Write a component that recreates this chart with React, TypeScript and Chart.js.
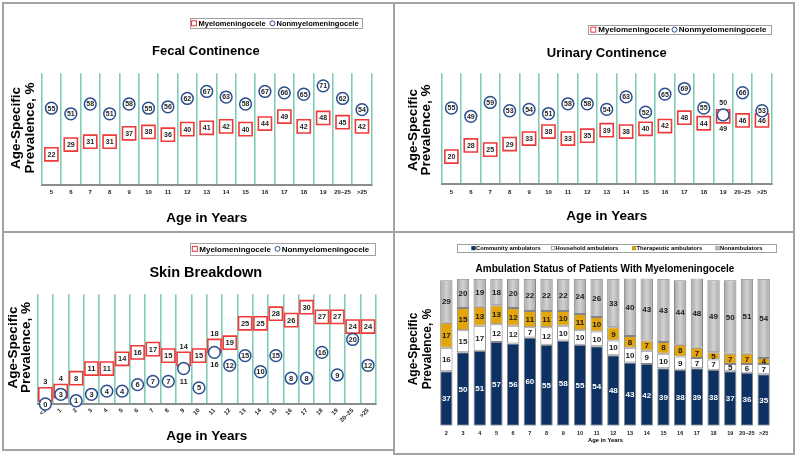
import React, { useEffect, useRef } from 'react';
import { Chart, registerables } from 'chart.js';

Chart.register(...registerables);

const FONT = '"Liberation Sans", Arial, Helvetica, sans-serif';
Chart.defaults.font.family = FONT;

// ---------------- Data ----------------
const seriesNames = ['Myelomeningocele', 'Nonmyelomeningocele'];

const continenceAges = ['5', '6', '7', '8', '9', '10', '11', '12', '13', '14', '15', '16', '17', '18', '19', '20–25', '>25'];
const fecalMyelo = [22, 29, 31, 31, 37, 38, 36, 40, 41, 42, 40, 44, 49, 42, 48, 45, 42];
const fecalNonMyelo = [55, 51, 58, 51, 58, 55, 56, 62, 67, 63, 58, 67, 66, 65, 71, 62, 54];

const urinaryMyelo = [20, 28, 25, 29, 33, 38, 33, 35, 39, 38, 40, 42, 48, 44, 49, 46, 46];
const urinaryNonMyelo = [55, 49, 59, 53, 54, 51, 58, 58, 54, 63, 52, 65, 69, 55, 50, 66, 53];

const skinAges = ['<1', '1', '2', '3', '4', '5', '6', '7', '8', '9', '10', '11', '12', '13', '14', '15', '16', '17', '18', '19', '20–25', '>25'];
const skinMyelo = [3, 4, 8, 11, 11, 14, 16, 17, 15, 14, 15, 18, 19, 25, 25, 28, 26, 30, 27, 27, 24, 24];
const skinNonMyelo = [0, 3, 1, 3, 4, 4, 6, 7, 7, 11, 5, 16, 12, 15, 10, 15, 8, 8, 16, 9, 20, 12];

const ambSeriesNames = ['Community ambulators', 'Household ambulators', 'Therapeutic ambulators', 'Nonambulators'];
const ambAges = ['2', '3', '4', '5', '6', '7', '8', '9', '10', '11', '12', '13', '14', '15', '16', '17', '18', '19', '20–25', '>25'];
const ambCommunity = [37, 50, 51, 57, 56, 60, 55, 58, 55, 54, 48, 43, 42, 39, 38, 39, 38, 37, 36, 35];
const ambHousehold = [16, 15, 17, 12, 12, 7, 12, 10, 10, 10, 10, 10, 9, 10, 9, 7, 7, 5, 6, 7];
const ambTherapeutic = [17, 15, 13, 13, 12, 11, 11, 10, 11, 10, 9, 8, 7, 8, 8, 7, 5, 7, 7, 4];
const ambNon = [29, 20, 19, 18, 20, 22, 22, 22, 24, 26, 33, 40, 43, 43, 44, 48, 49, 50, 51, 54];

const continenceMax = 80;
const skinMax = 34;
const ambMax = 100;

// Categories whose value labels sit outside their marker (where markers overlap)
type LabelMoves = { myeloAbove?: string[]; myeloBelow?: string[]; nonAbove?: string[]; nonBelow?: string[] };
const fecalLabelMoves: LabelMoves = {};
const urinaryLabelMoves: LabelMoves = { myeloBelow: ['19'], nonAbove: ['19'] };
const skinLabelMoves: LabelMoves = { myeloAbove: ['<1', '1', '9', '11'], nonBelow: ['9', '11'] };

// ---------------- Styles ----------------
const RED = '#ee3a3a';
const BLUE = '#2d4f8f';
const TEAL = '#80cdb6';
const NAVY = '#0d3163';
const GOLD = '#e2a50b';
const GRAY = '#bdbdbd';

type TextItem = { text: string; x: number; y: number; size: number; rotate?: boolean };
type LegendItem = { shape: string; color: string; fill?: string; mx: number; tx: number; label: string };
type Decor = {
  texts: TextItem[];
  legend: { box: number[]; size: number; marker: number; items: LegendItem[] };
};

function makeDecor(id: string, d: Decor) {
  return {
    id,
    afterDraw(chart: any) {
      const ctx = chart.ctx as CanvasRenderingContext2D;
      ctx.save();
      ctx.textAlign = 'center';
      ctx.textBaseline = 'middle';
      ctx.fillStyle = '#000';
      for (const t of d.texts) {
        ctx.font = `bold ${t.size}px ${FONT}`;
        if (t.rotate) {
          ctx.save();
          ctx.translate(t.x, t.y);
          ctx.rotate(-Math.PI / 2);
          ctx.fillText(t.text, 0, 0);
          ctx.restore();
        } else {
          ctx.fillText(t.text, t.x, t.y);
        }
      }
      const lg = d.legend;
      const [bx, by, bw, bh] = lg.box;
      ctx.fillStyle = '#fff';
      ctx.fillRect(bx, by, bw, bh);
      ctx.strokeStyle = '#a0a0a0';
      ctx.lineWidth = 1;
      ctx.strokeRect(Math.round(bx) + 0.5, Math.round(by) + 0.5, Math.round(bw), Math.round(bh));
      const cy = by + bh / 2;
      ctx.font = `bold ${lg.size}px ${FONT}`;
      ctx.textAlign = 'left';
      const m = lg.marker;
      for (const it of lg.items) {
        if (it.shape === 'circle') {
          ctx.beginPath();
          ctx.arc(it.mx, cy, m / 2, 0, Math.PI * 2);
          ctx.fillStyle = '#fff';
          ctx.fill();
          ctx.strokeStyle = it.color;
          ctx.lineWidth = 1;
          ctx.stroke();
        } else if (it.shape === 'rect') {
          ctx.fillStyle = '#fff';
          ctx.fillRect(it.mx - m / 2, cy - m / 2, m, m);
          ctx.strokeStyle = it.color;
          ctx.lineWidth = 1;
          ctx.strokeRect(it.mx - m / 2, cy - m / 2, m, m);
        } else {
          ctx.fillStyle = it.fill || it.color;
          ctx.fillRect(it.mx - m / 2, cy - m / 2, m, m);
          ctx.strokeStyle = it.color;
          ctx.lineWidth = 0.6;
          ctx.strokeRect(it.mx - m / 2, cy - m / 2, m, m);
        }
        ctx.fillStyle = '#000';
        ctx.fillText(it.label, it.tx, cy + 0.5);
      }
      ctx.restore();
    },
  };
}

function makePairLabels(id: string, size: number, shift: number, moves: LabelMoves) {
  const has = (list: string[] | undefined, c: string) => !!list && list.indexOf(c) >= 0;
  return {
    id,
    afterDatasetsDraw(chart: any) {
      const ctx = chart.ctx as CanvasRenderingContext2D;
      const labels = chart.data.labels as string[];
      const a = chart.data.datasets[0].data as number[];
      const b = chart.data.datasets[1].data as number[];
      const ma = chart.getDatasetMeta(0).data;
      const mb = chart.getDatasetMeta(1).data;
      ctx.save();
      ctx.font = `bold ${size}px ${FONT}`;
      ctx.fillStyle = '#1e1e1e';
      ctx.textAlign = 'center';
      ctx.textBaseline = 'middle';
      for (let i = 0; i < a.length; i++) {
        const c = labels[i];
        const pa = ma[i];
        const pb = mb[i];
        let ya = pa.y;
        let yb = pb.y;
        if (has(moves.myeloAbove, c)) ya -= shift;
        if (has(moves.myeloBelow, c)) ya += shift;
        if (has(moves.nonAbove, c)) yb -= shift;
        if (has(moves.nonBelow, c)) yb += shift;
        ctx.fillText(String(a[i]), pa.x, ya + 0.5);
        ctx.fillText(String(b[i]), pb.x, yb + 0.5);
      }
      ctx.restore();
    },
  };
}

function makeBarLabels(id: string, size: number) {
  return {
    id,
    afterDatasetsDraw(chart: any) {
      const ctx = chart.ctx as CanvasRenderingContext2D;
      const area = chart.chartArea;
      ctx.save();
      ctx.font = `bold ${size}px ${FONT}`;
      ctx.textAlign = 'center';
      ctx.textBaseline = 'middle';
      chart.data.datasets.forEach((ds: any, k: number) => {
        const meta = chart.getDatasetMeta(k);
        ctx.fillStyle = k === 0 ? '#ffffff' : '#1a1a1a';
        meta.data.forEach((el: any, i: number) => {
          const top = Math.max(Math.min(el.y, el.base), area.top);
          const bot = Math.max(el.y, el.base);
          ctx.fillText(String(ds.data[i]), el.x, (top + bot) / 2 + 0.5);
        });
      });
      ctx.restore();
    },
  };
}

type ScatterPanel = {
  key: string;
  labels: string[];
  myelo: number[];
  non: number[];
  max: number;
  moves: LabelMoves;
  padding: { left: number; right: number; top: number; bottom: number };
  axisH: number;
  rot: number;
  tickPad: number;
  tickSize: number;
  labelSize: number;
  decor: Decor;
};

function scatterConfig(p: ScatterPanel): any {
  return {
    type: 'line',
    data: {
      labels: p.labels,
      datasets: [
        {
          label: seriesNames[0],
          data: p.myelo,
          showLine: false,
          pointStyle: 'rect',
          pointRadius: 9.3,
          pointHoverRadius: 9.3,
          pointBorderWidth: 1.6,
          pointBorderColor: RED,
          pointBackgroundColor: '#ffffff',
          borderColor: RED,
          backgroundColor: '#ffffff',
          order: 2,
          clip: false,
        },
        {
          label: seriesNames[1],
          data: p.non,
          showLine: false,
          pointStyle: 'circle',
          pointRadius: 5.9,
          pointHoverRadius: 5.9,
          pointBorderWidth: 1.5,
          pointBorderColor: BLUE,
          pointBackgroundColor: '#ffffff',
          borderColor: BLUE,
          backgroundColor: '#ffffff',
          order: 1,
          clip: false,
        },
      ],
    },
    options: {
      responsive: false,
      animation: false,
      devicePixelRatio: 1,
      events: [],
      layout: { padding: p.padding },
      plugins: { legend: { display: false }, tooltip: { enabled: false }, title: { display: false } },
      scales: {
        x: {
          type: 'category',
          offset: true,
          grid: { offset: true, color: TEAL, lineWidth: 1.6, drawTicks: false },
          border: { display: true, color: '#8c8c8c', width: 2 },
          ticks: {
            autoSkip: false,
            maxRotation: p.rot,
            minRotation: p.rot,
            padding: p.tickPad,
            color: '#222',
            font: { size: p.tickSize, weight: 'bold', family: FONT },
          },
          afterFit: (s: any) => {
            s.height = p.axisH;
            s.paddingLeft = 0;
            s.paddingRight = 0;
          },
        },
        y: { display: false, min: 0, max: p.max },
      },
    },
    plugins: [makePairLabels('pair-' + p.key, p.labelSize, 12.5, p.moves), makeDecor('decor-' + p.key, p.decor)],
  };
}

function markerLegend(box: number[], size: number, rx: number, rtx: number, cx: number, ctx2: number): Decor['legend'] {
  return {
    box,
    size,
    marker: 5,
    items: [
      { shape: 'rect', color: RED, mx: rx, tx: rtx, label: seriesNames[0] },
      { shape: 'circle', color: BLUE, mx: cx, tx: ctx2, label: seriesNames[1] },
    ],
  };
}

const fecalPanel: ScatterPanel = {
  key: 'fecal',
  labels: continenceAges,
  myelo: fecalMyelo,
  non: fecalNonMyelo,
  max: continenceMax,
  moves: fecalLabelMoves,
  padding: { left: 37.7, right: 21.3, top: 69.3, bottom: 0 },
  axisH: 46,
  rot: 0,
  tickPad: 4,
  tickSize: 6,
  labelSize: 7,
  decor: {
    texts: [
      { text: 'Fecal Continence', x: 201.8, y: 47, size: 13 },
      { text: 'Age in Years', x: 202.7, y: 214, size: 13.5 },
      { text: 'Age-Specific', x: 12.7, y: 124, size: 13.5, rotate: true },
      { text: 'Prevalence, %', x: 26, y: 124, size: 13.5, rotate: true },
    ],
    legend: markerLegend([186, 14.3, 171.7, 10], 7.5, 190, 194.5, 268.5, 272.5),
  },
};

const urinaryPanel: ScatterPanel = {
  key: 'urinary',
  labels: continenceAges,
  myelo: urinaryMyelo,
  non: urinaryNonMyelo,
  max: continenceMax,
  moves: urinaryLabelMoves,
  padding: { left: 46.7, right: 21.3, top: 69.3, bottom: 0 },
  axisH: 46.7,
  rot: 0,
  tickPad: 4,
  tickSize: 6,
  labelSize: 7,
  decor: {
    texts: [
      { text: 'Urinary Continence', x: 211.7, y: 49, size: 13 },
      { text: 'Age in Years', x: 211.7, y: 212.7, size: 13.5 },
      { text: 'Age-Specific', x: 18.3, y: 126, size: 13.5, rotate: true },
      { text: 'Prevalence, %', x: 31.7, y: 126, size: 13.5, rotate: true },
    ],
    legend: markerLegend([193, 21, 182.7, 9.3], 8, 198.3, 203.3, 279.5, 283.8),
  },
};

const skinPanel: ScatterPanel = {
  key: 'skin',
  labels: skinAges,
  myelo: skinMyelo,
  non: skinNonMyelo,
  max: skinMax,
  moves: skinLabelMoves,
  padding: { left: 33.7, right: 17.3, top: 61.3, bottom: 0 },
  axisH: 45,
  rot: 45,
  tickPad: 3,
  tickSize: 6,
  labelSize: 7.5,
  decor: {
    texts: [
      { text: 'Skin Breakdown', x: 201.8, y: 40.3, size: 14.5 },
      { text: 'Age in Years', x: 202.7, y: 203.7, size: 13.5 },
      { text: 'Age-Specific', x: 9.3, y: 114.5, size: 13.5, rotate: true },
      { text: 'Prevalence, %', x: 22.7, y: 114.5, size: 13.5, rotate: true },
    ],
    legend: markerLegend([186, 9.7, 185, 12.3], 8, 190.8, 195.3, 273.5, 277.7),
  },
};

function ambConfig(): any {
  const grayGrad = (c: any) => {
    try {
      const chart = c.chart;
      const x = chart.scales && chart.scales.x;
      const area = chart.chartArea;
      if (!x || !area || c.dataIndex === undefined) return GRAY;
      const cx = x.getPixelForValue(c.dataIndex);
      const half = ((area.right - area.left) / ambAges.length) * 0.74 / 2;
      const g = chart.ctx.createLinearGradient(cx - half, 0, cx + half, 0);
      g.addColorStop(0, '#a6a6a6');
      g.addColorStop(0.5, '#d2d2d2');
      g.addColorStop(1, '#a6a6a6');
      return g;
    } catch (e) {
      return GRAY;
    }
  };
  const common = { borderColor: '#858585', borderWidth: 1, borderSkipped: false };
  return {
    type: 'bar',
    data: {
      labels: ambAges,
      datasets: [
        { label: ambSeriesNames[0], data: ambCommunity, backgroundColor: NAVY, ...common },
        { label: ambSeriesNames[1], data: ambHousehold, backgroundColor: '#ffffff', ...common },
        { label: ambSeriesNames[2], data: ambTherapeutic, backgroundColor: GOLD, ...common },
        { label: ambSeriesNames[3], data: ambNon, backgroundColor: grayGrad, ...common },
      ],
    },
    options: {
      responsive: false,
      animation: false,
      devicePixelRatio: 1,
      events: [],
      layout: { padding: { left: 43, right: 21, top: 45.7, bottom: 0 } },
      datasets: { bar: { barPercentage: 0.74, categoryPercentage: 1 } },
      plugins: { legend: { display: false }, tooltip: { enabled: false }, title: { display: false } },
      scales: {
        x: {
          stacked: true,
          grid: { display: false, drawTicks: false },
          border: { display: false },
          ticks: {
            autoSkip: false,
            maxRotation: 0,
            minRotation: 0,
            padding: 4,
            color: '#222',
            font: { size: 5.5, weight: 'bold', family: FONT },
          },
          afterFit: (s: any) => {
            s.height = 27.3;
            s.paddingLeft = 0;
            s.paddingRight = 0;
          },
        },
        y: { stacked: true, display: false, min: 0, max: ambMax },
      },
    },
    plugins: [
      makeBarLabels('barlabels', 8),
      makeDecor('decor-amb', {
        texts: [
          { text: 'Ambulation Status of Patients With Myelomeningocele', x: 210, y: 36.3, size: 10 },
          { text: 'Age in Years', x: 210.5, y: 207.7, size: 5.8 },
          { text: 'Age-Specific', x: 19, y: 116, size: 12, rotate: true },
          { text: 'Prevalence, %', x: 32.5, y: 116, size: 12, rotate: true },
        ],
        legend: {
          box: [62.3, 11.3, 318.7, 7.7],
          size: 5.8,
          marker: 3.5,
          items: [
            { shape: 'fill', color: NAVY, fill: NAVY, mx: 78.5, tx: 81, label: ambSeriesNames[0] },
            { shape: 'fill', color: '#777777', fill: '#ffffff', mx: 158, tx: 160.5, label: ambSeriesNames[1] },
            { shape: 'fill', color: '#b58300', fill: GOLD, mx: 239, tx: 241.5, label: ambSeriesNames[2] },
            { shape: 'fill', color: '#888888', fill: GRAY, mx: 322.5, tx: 325, label: ambSeriesNames[3] },
          ],
        },
      }),
    ],
  };
}

function ChartBox(props: { left: number; top: number; width: number; height: number; make: () => any }) {
  const ref = useRef<HTMLCanvasElement | null>(null);
  useEffect(() => {
    const chart = new Chart(ref.current as HTMLCanvasElement, props.make());
    return () => chart.destroy();
  }, []);
  const { left, top, width, height } = props;
  return (
    <div style={{ position: 'absolute', left, top, width, height }}>
      <canvas ref={ref} width={width} height={height} style={{ width, height, display: 'block' }} />
    </div>
  );
}

const LINE = '#a3a3a3';
const lines = [
  { left: 2, top: 2, width: 793, height: 2 },
  { left: 2, top: 2, width: 2, height: 449 },
  { left: 393, top: 2, width: 2, height: 453 },
  { left: 793, top: 2, width: 2, height: 453 },
  { left: 2, top: 231, width: 793, height: 2 },
  { left: 2, top: 449, width: 393, height: 2 },
  { left: 393, top: 453, width: 402, height: 2 },
];

export default function App() {
  return (
    <div style={{ position: 'fixed', left: 0, top: 0, width: 800, height: 460, background: '#fff', overflow: 'hidden' }}>
      {lines.map((l, i) => (
        <div key={i} style={{ position: 'absolute', ...l, background: LINE }} />
      ))}
      <ChartBox left={4} top={4} width={389} height={227} make={() => scatterConfig(fecalPanel)} />
      <ChartBox left={395} top={4} width={398} height={227} make={() => scatterConfig(urinaryPanel)} />
      <ChartBox left={4} top={233} width={389} height={216} make={() => scatterConfig(skinPanel)} />
      <ChartBox left={395} top={233} width={398} height={220} make={ambConfig} />
    </div>
  );
}
